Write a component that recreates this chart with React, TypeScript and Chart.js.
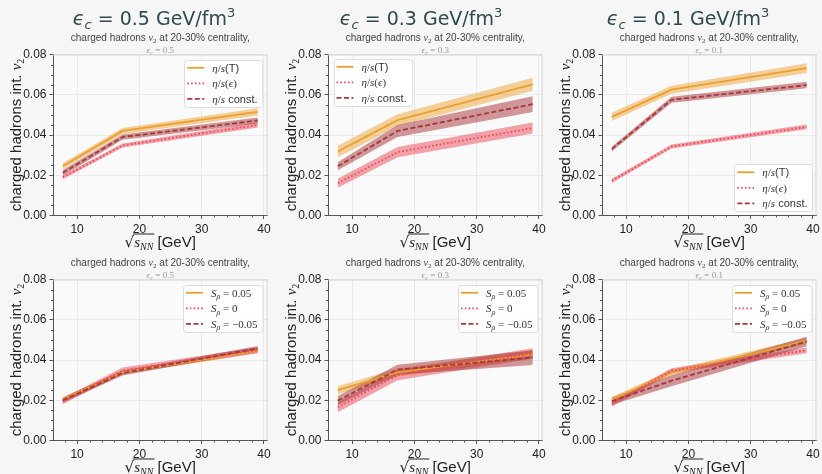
import React, { useEffect, useRef } from 'react';
import { Chart, registerables } from 'chart.js';
Chart.register(...registerables);

// ---------------- data ----------------
const energies = [7.7, 17.3, 39];
const xTickValues = [10, 20, 30, 40];
const yTickValues = [0, 0.02, 0.04, 0.06, 0.08];
const epsilonLabels = ['0.5', '0.3', '0.1'];

// top row: eta/s parametrisations (central value, half band width)
const etaT_e05 = [0.0245, 0.0420, 0.0515];
const etaT_e05_err = [0.0015, 0.0015, 0.0018];
const etaEps_e05 = [0.0190, 0.0348, 0.0450];
const etaEps_e05_err = [0.0010, 0.0010, 0.0013];
const etaConst_e05 = [0.0212, 0.0390, 0.0472];
const etaConst_e05_err = [0.0014, 0.0013, 0.0015];

const etaT_e03 = [0.0318, 0.0474, 0.0652];
const etaT_e03_err = [0.0028, 0.0029, 0.0032];
const etaEps_e03 = [0.0160, 0.0315, 0.0435];
const etaEps_e03_err = [0.0022, 0.0025, 0.0027];
const etaConst_e03 = [0.0245, 0.0420, 0.0553];
const etaConst_e03_err = [0.0020, 0.0030, 0.0039];

const etaT_e01 = [0.0490, 0.0625, 0.0732];
const etaT_e01_err = [0.0020, 0.0020, 0.0024];
const etaEps_e01 = [0.0172, 0.0343, 0.0440];
const etaEps_e01_err = [0.0010, 0.0010, 0.0012];
const etaConst_e01 = [0.0330, 0.0575, 0.0648];
const etaConst_e01_err = [0.0012, 0.0015, 0.0016];

// bottom row: S_rho variations
const spPlus_e05 = [0.0205, 0.0338, 0.0445];
const spPlus_e05_err = [0.0010, 0.0010, 0.0010];
const spZero_e05 = [0.0195, 0.0348, 0.0448];
const spZero_e05_err = [0.0015, 0.0015, 0.0015];
const spMinus_e05 = [0.0200, 0.0335, 0.0458];
const spMinus_e05_err = [0.0012, 0.0012, 0.0012];

const spPlus_e03 = [0.0250, 0.0338, 0.0428];
const spPlus_e03_err = [0.0020, 0.0020, 0.0020];
const spZero_e03 = [0.0165, 0.0325, 0.0433];
const spZero_e03_err = [0.0025, 0.0025, 0.0025];
const spMinus_e03 = [0.0198, 0.0352, 0.0412];
const spMinus_e03_err = [0.0023, 0.0025, 0.0037];

const spPlus_e01 = [0.0203, 0.0337, 0.0495];
const spPlus_e01_err = [0.0013, 0.0013, 0.0015];
const spZero_e01 = [0.0180, 0.0347, 0.0448];
const spZero_e01_err = [0.0012, 0.0012, 0.0014];
const spMinus_e01 = [0.0195, 0.0297, 0.0492];
const spMinus_e01_err = [0.0017, 0.0027, 0.0024];

// ---------------- styling ----------------
const SANS = "'Liberation Sans', Arial, sans-serif";
const SERIF = "'Liberation Serif', 'DejaVu Serif', serif";
const DJ = "'DejaVu Sans', sans-serif";

const seriesStyles = [
  { color: 'rgb(234,160,48)', band: 'rgba(236,162,50,0.5)', dash: [] as number[], bandOrder: 12, lineOrder: 3 },
  { color: 'rgb(236,72,88)', band: 'rgba(236,72,88,0.5)', dash: [1.6, 2.2], bandOrder: 11, lineOrder: 2 },
  { color: 'rgb(166,56,60)', band: 'rgba(166,56,60,0.52)', dash: [5, 2.5], bandOrder: 10, lineOrder: 1 },
];

type Seg = { t: string; font: string; dy?: number };

const etaLegend: Seg[][] = [
  [
    { t: 'η', font: `italic 11px ${SERIF}` },
    { t: '/', font: `11px ${SERIF}` },
    { t: 's', font: `italic 11px ${SERIF}` },
    { t: '(T)', font: `11px ${SANS}` },
  ],
  [
    { t: 'η', font: `italic 11px ${SERIF}` },
    { t: '/', font: `11px ${SERIF}` },
    { t: 's', font: `italic 11px ${SERIF}` },
    { t: '(', font: `11px ${SERIF}` },
    { t: 'ϵ', font: `italic 11px ${SERIF}` },
    { t: ')', font: `11px ${SERIF}` },
  ],
  [
    { t: 'η', font: `italic 11px ${SERIF}` },
    { t: '/', font: `11px ${SERIF}` },
    { t: 's', font: `italic 11px ${SERIF}` },
    { t: ' const.', font: `11px ${SANS}` },
  ],
];
const spValues = ['0.05', '0', '−0.05'];
const spLegend: Seg[][] = spValues.map((v) => [
  { t: 'S', font: `italic 11px ${SERIF}` },
  { t: 'ρ', font: `italic 8px ${SERIF}`, dy: 2.5 },
  { t: ' = ' + v, font: `11px ${SERIF}` },
]);

type PanelCfg = {
  row: number;
  col: number;
  eps: string;
  legendPos: 'ur' | 'ul' | 'lr';
  legend: Seg[][];
  series: [number[], number[]][];
};

const panels: PanelCfg[] = [
  { row: 0, col: 0, eps: epsilonLabels[0], legendPos: 'ur', legend: etaLegend,
    series: [[etaT_e05, etaT_e05_err], [etaEps_e05, etaEps_e05_err], [etaConst_e05, etaConst_e05_err]] },
  { row: 0, col: 1, eps: epsilonLabels[1], legendPos: 'ul', legend: etaLegend,
    series: [[etaT_e03, etaT_e03_err], [etaEps_e03, etaEps_e03_err], [etaConst_e03, etaConst_e03_err]] },
  { row: 0, col: 2, eps: epsilonLabels[2], legendPos: 'lr', legend: etaLegend,
    series: [[etaT_e01, etaT_e01_err], [etaEps_e01, etaEps_e01_err], [etaConst_e01, etaConst_e01_err]] },
  { row: 1, col: 0, eps: epsilonLabels[0], legendPos: 'ur', legend: spLegend,
    series: [[spPlus_e05, spPlus_e05_err], [spZero_e05, spZero_e05_err], [spMinus_e05, spMinus_e05_err]] },
  { row: 1, col: 1, eps: epsilonLabels[1], legendPos: 'ur', legend: spLegend,
    series: [[spPlus_e03, spPlus_e03_err], [spZero_e03, spZero_e03_err], [spMinus_e03, spMinus_e03_err]] },
  { row: 1, col: 2, eps: epsilonLabels[2], legendPos: 'ur', legend: spLegend,
    series: [[spPlus_e01, spPlus_e01_err], [spZero_e01, spZero_e01_err], [spMinus_e01, spMinus_e01_err]] },
];

// layout
const CANVAS_W = 274;
const CANVAS_H = 250;
const colLeft = [0, 275, 549];
const rowTop = [0, 225];
const titleCenter = [154, 146, 139];

function measureRich(ctx: CanvasRenderingContext2D, segs: Seg[]) {
  let w = 0;
  for (const s of segs) {
    ctx.font = s.font;
    w += ctx.measureText(s.t).width;
  }
  return w;
}
function drawRich(ctx: CanvasRenderingContext2D, segs: Seg[], x: number, y: number, align: 'left' | 'center') {
  const w = measureRich(ctx, segs);
  let cx = align === 'center' ? x - w / 2 : x;
  ctx.textAlign = 'left';
  ctx.textBaseline = 'alphabetic';
  const ends: number[] = [];
  for (const s of segs) {
    ctx.font = s.font;
    ctx.fillText(s.t, cx, y + (s.dy || 0));
    cx += ctx.measureText(s.t).width;
    ends.push(cx);
  }
  return ends;
}

function makePlugin(cfg: PanelCfg) {
  return {
    id: 'decor',
    beforeDraw(chart: any) {
      const { ctx, chartArea: a } = chart;
      ctx.save();
      ctx.fillStyle = '#fafafa';
      ctx.fillRect(a.left, a.top, a.right - a.left, a.bottom - a.top);
      ctx.restore();
    },
    afterDraw(chart: any) {
      const { ctx, chartArea: a } = chart;
      const xs = chart.scales.x;
      const ys = chart.scales.y;
      ctx.save();
      // top/right spines
      ctx.strokeStyle = '#d2d2d2';
      ctx.lineWidth = 1;
      ctx.beginPath();
      ctx.moveTo(a.left, a.top + 0.5);
      ctx.lineTo(a.right, a.top + 0.5);
      ctx.moveTo(a.right - 0.5, a.top);
      ctx.lineTo(a.right - 0.5, a.bottom);
      ctx.stroke();
      // minor ticks
      ctx.strokeStyle = '#555';
      ctx.beginPath();
      for (let v = 8; v <= 40; v += 2) {
        if (v % 10 === 0) continue;
        const px = Math.round(xs.getPixelForValue(v)) + 0.5;
        ctx.moveTo(px, a.bottom);
        ctx.lineTo(px, a.bottom + 2);
      }
      for (let k = 1; k < 16; k++) {
        if (k % 4 === 0) continue;
        const py = Math.round(ys.getPixelForValue(k * 0.005)) + 0.5;
        ctx.moveTo(a.left, py);
        ctx.lineTo(a.left - 2, py);
      }
      ctx.stroke();

      // legend
      const rows = cfg.legend;
      let tw = 0;
      for (const r of rows) tw = Math.max(tw, measureRich(ctx, r));
      const bw = 28 + tw + 5;
      const bh = 47;
      let bx = a.right - 5 - bw;
      let by = a.top + 5;
      if (cfg.legendPos === 'ul') { bx = a.left + 5.5; by = a.top + 4; }
      if (cfg.legendPos === 'lr') { bx = a.right - 4 - bw; by = a.bottom - 4.5 - bh; }
      ctx.fillStyle = 'rgba(255,255,255,0.85)';
      ctx.strokeStyle = '#dcdcdc';
      ctx.lineWidth = 1;
      ctx.beginPath();
      (ctx as any).roundRect(Math.round(bx) + 0.5, Math.round(by) + 0.5, bw, bh, 3);
      ctx.fill();
      ctx.stroke();
      rows.forEach((r, i) => {
        const st = seriesStyles[i];
        const ly = by + 8.3 + i * 15.5;
        ctx.strokeStyle = st.color;
        ctx.lineWidth = 1.8;
        ctx.setLineDash(st.dash);
        ctx.beginPath();
        ctx.moveTo(bx + 3, ly);
        ctx.lineTo(bx + 20, ly);
        ctx.stroke();
        ctx.setLineDash([]);
        ctx.fillStyle = '#333';
        drawRich(ctx, r, bx + 28, ly + 4, 'left');
      });

      const cxm = (a.left + a.right) / 2;
      // subtitles
      ctx.fillStyle = '#444';
      drawRich(ctx, [
        { t: 'charged hadrons ', font: `10px ${SANS}` },
        { t: 'v', font: `italic 10px ${SERIF}` },
        { t: '2', font: `7px ${SERIF}`, dy: 2 },
        { t: ' at 20-30% centrality,', font: `10px ${SANS}` },
      ], cxm, 41, 'center');
      ctx.fillStyle = '#999';
      drawRich(ctx, [
        { t: 'ϵ', font: `italic 9px ${SERIF}` },
        { t: 'c', font: `italic 6.5px ${SERIF}`, dy: 2 },
        { t: ' = ' + cfg.eps, font: `9px ${SERIF}` },
      ], cxm, 52.5, 'center');

      // main title (top row only)
      if (cfg.row === 0) {
        ctx.fillStyle = '#2f4a4a';
        drawRich(ctx, [
          { t: 'ϵ', font: `italic 19px ${DJ}` },
          { t: 'c', font: `italic 13px ${DJ}`, dy: 4 },
          { t: ' = ' + cfg.eps + ' GeV/fm', font: `19px ${DJ}` },
          { t: '3', font: `13px ${DJ}`, dy: -8 },
        ], titleCenter[cfg.col], 25, 'center');
      }

      // y label
      ctx.fillStyle = '#222';
      ctx.save();
      ctx.translate(a.left - 32, (a.top + a.bottom) / 2);
      ctx.rotate(-Math.PI / 2);
      drawRich(ctx, [
        { t: 'charged hadrons int. ', font: `15px ${SANS}` },
        { t: 'v', font: `italic 15px ${SERIF}` },
        { t: '2', font: `10px ${SERIF}`, dy: 3 },
      ], 0, 0, 'center');
      ctx.restore();

      // x label
      const xb = a.bottom + 31;
      const ends = drawRich(ctx, [
        { t: '√', font: `15px ${DJ}` },
        { t: 's', font: `italic 15px ${SERIF}` },
        { t: 'NN', font: `italic 10px ${SERIF}`, dy: 3 },
        { t: ' [GeV]', font: `15px ${SANS}` },
      ], cxm, xb, 'center');
      ctx.strokeStyle = '#222';
      ctx.lineWidth = 1;
      ctx.beginPath();
      ctx.moveTo(ends[0] - 1, xb - 12.5);
      ctx.lineTo(ends[2] + 1, xb - 12.5);
      ctx.stroke();

      ctx.restore();
    },
  };
}

function Panel({ cfg }: { cfg: PanelCfg }) {
  const ref = useRef<HTMLCanvasElement>(null);
  useEffect(() => {
    if (!ref.current) return;
    const datasets: any[] = [];
    cfg.series.forEach(([mid, err], i) => {
      const st = seriesStyles[i];
      datasets.push({
        data: energies.map((x, j) => ({ x, y: mid[j] + err[j] })),
        borderWidth: 0, pointRadius: 0, fill: '+1', backgroundColor: st.band, order: st.bandOrder,
      });
      datasets.push({
        data: energies.map((x, j) => ({ x, y: mid[j] - err[j] })),
        borderWidth: 0, pointRadius: 0, fill: false, order: st.bandOrder,
      });
      datasets.push({
        data: energies.map((x, j) => ({ x, y: mid[j] })),
        borderColor: st.color, borderWidth: 1.8, borderDash: st.dash, pointRadius: 0, fill: false,
        order: st.lineOrder,
      });
    });
    const chart = new Chart(ref.current, {
      type: 'line',
      data: { datasets },
      options: {
        responsive: false,
        maintainAspectRatio: false,
        animation: false,
        devicePixelRatio: 1,
        events: [],
        layout: { padding: { left: 0, top: 54.5, right: 6.5, bottom: 0 } },
        elements: { line: { tension: 0 } },
        plugins: { legend: { display: false }, tooltip: { enabled: false }, title: { display: false } },
        scales: {
          x: {
            type: 'linear',
            min: 6.135,
            max: 40.565,
            afterBuildTicks: (s: any) => { s.ticks = xTickValues.map((v) => ({ value: v })); },
            afterFit: (s: any) => { s.height = 34.5; },
            ticks: {
              font: { family: SANS, size: 12 }, color: '#222', padding: 3, maxRotation: 0, autoSkip: false,
              callback: (v: any) => String(v),
            },
            grid: { color: '#e6e6e6', lineWidth: 0.8, tickLength: 3.5, tickColor: '#555', tickWidth: 1 },
            border: { color: '#555', width: 1 },
          },
          y: {
            type: 'linear',
            min: 0,
            max: 0.08,
            afterBuildTicks: (s: any) => { s.ticks = yTickValues.map((v) => ({ value: v })); },
            afterFit: (s: any) => { s.width = 53; },
            ticks: {
              font: { family: SANS, size: 12 }, color: '#222', padding: 3, autoSkip: false,
              callback: (v: any) => Number(v).toFixed(2),
            },
            grid: { color: '#e6e6e6', lineWidth: 0.8, tickLength: 3.5, tickColor: '#555', tickWidth: 1 },
            border: { color: '#555', width: 1 },
          },
        },
      } as any,
      plugins: [makePlugin(cfg)],
    });
    return () => chart.destroy();
  }, [cfg]);
  return (
    <canvas
      ref={ref}
      width={CANVAS_W}
      height={CANVAS_H}
      style={{ position: 'absolute', left: colLeft[cfg.col], top: rowTop[cfg.row], width: CANVAS_W, height: CANVAS_H, display: 'block' }}
    />
  );
}

export default function App() {
  return (
    <div style={{ position: 'absolute', left: 0, top: 0, width: 822, height: 474, background: '#f6f6f6', overflow: 'hidden' }}>
      {panels.map((p, i) => (
        <Panel key={i} cfg={p} />
      ))}
    </div>
  );
}
